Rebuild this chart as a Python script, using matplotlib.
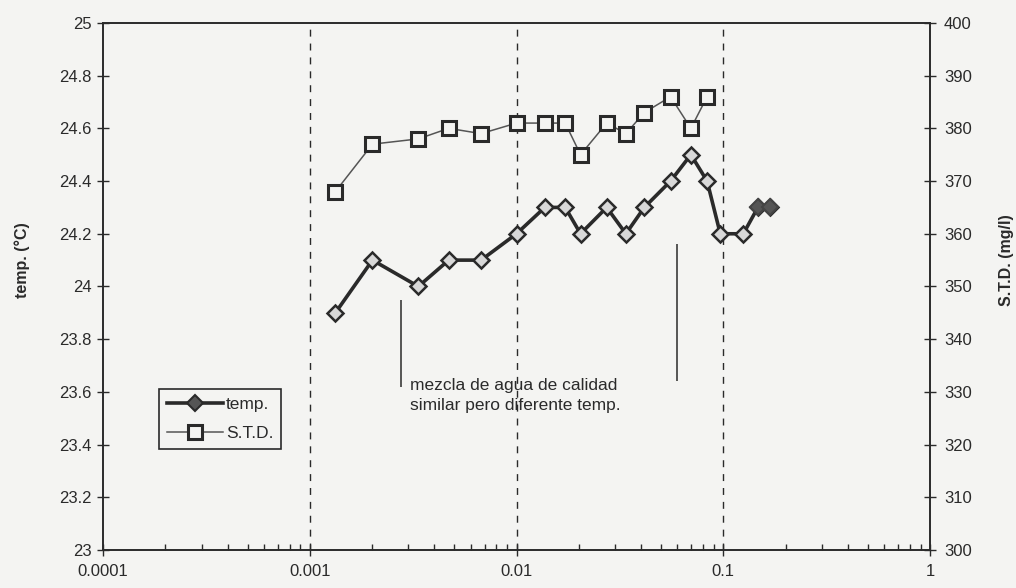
import matplotlib.pyplot as plt
from matplotlib.lines import Line2D

plt.rcParams['font.family'] = ['Liberation Sans', 'DejaVu Sans']

# sampling points on the log axis
x_temp = [0.00133, 0.00201, 0.00335, 0.0047, 0.00674, 0.0100, 0.0137,
          0.0172, 0.0204, 0.0273, 0.0338, 0.0415, 0.0556, 0.0697, 0.0835,
          0.0967, 0.125, 0.147, 0.168]
temp = [23.9, 24.1, 24.0, 24.1, 24.1, 24.2, 24.3, 24.3, 24.2, 24.3, 24.2,
        24.3, 24.4, 24.5, 24.4, 24.2, 24.2, 24.3, 24.3]

x_std = [0.00133, 0.00201, 0.00335, 0.0047, 0.00674, 0.0100, 0.0137,
         0.0172, 0.0204, 0.0273, 0.0338, 0.0415, 0.0556, 0.0697, 0.0835]
std = [368, 377, 378, 380, 379, 381, 381, 381, 375, 381, 379, 383, 386,
       380, 386]

x_ticks = [0.0001, 0.001, 0.01, 0.1, 1]
x_tick_labels = ['0.0001', '0.001', '0.01', '0.1', '1']
temp_ticks = [23, 23.2, 23.4, 23.6, 23.8, 24, 24.2, 24.4, 24.6, 24.8, 25]
temp_tick_labels = ['23', '23.2', '23.4', '23.6', '23.8', '24', '24.2',
                    '24.4', '24.6', '24.8', '25']
std_ticks = [300, 310, 320, 330, 340, 350, 360, 370, 380, 390, 400]

bg = '#f4f4f2'
ink = '#2a2a2a'

fig = plt.figure(figsize=(10.16, 5.88), dpi=100, facecolor=bg)
ax = fig.add_axes([0.1014, 0.0646, 0.814, 0.8964], facecolor=bg)
ax2 = ax.twinx()

ax.set_xscale('log')
ax.set_xlim(0.0001, 1)
ax.set_ylim(23, 25)
ax2.set_ylim(300, 400)

# vertical dashed lines at the inner decades
for xv in x_ticks[1:-1]:
    ax.axvline(xv, color=ink, lw=1.0, ls=(0, (5, 5)), zorder=1)

# temperature series
ax.plot(x_temp, temp, color=ink, lw=2.6, marker='D', ms=8,
        mfc='#d8d8d8', mec=ink, mew=1.8, zorder=4)
ax.plot(x_temp[-2:], temp[-2:], ls='none', marker='D', ms=8,
        mfc='#555555', mec='#444444', mew=1.5, zorder=5)

# dissolved solids series
ax2.plot(x_std, std, color='#555555', lw=1.1, marker='s', ms=10,
         mfc=bg, mec=ink, mew=2.2, zorder=4)

# annotation
ax.vlines([0.00276], 23.62, 23.95, color=ink, lw=1.1)
ax.vlines([0.0596], 23.64, 24.16, color=ink, lw=1.1)
ax.text(0.00306, 23.585, 'mezcla de agua de calidad\nsimilar pero diferente temp.',
        fontsize=12.5, color=ink, va='center', ha='left', linespacing=1.4)

ax.set_xticks(x_ticks)
ax.set_xticklabels(x_tick_labels)
ax.set_yticks(temp_ticks)
ax.set_yticklabels(temp_tick_labels)
ax2.set_yticks(std_ticks)

ax.tick_params(axis='x', which='major', direction='inout', length=8,
               width=1, colors=ink, labelsize=12, pad=6)
ax.tick_params(axis='x', which='minor', direction='in', length=4,
               width=1, colors=ink)
ax.tick_params(axis='y', direction='inout', length=8, width=1,
               colors=ink, labelsize=12, pad=4)
ax2.tick_params(axis='y', direction='inout', length=8, width=1,
                colors=ink, labelsize=12, pad=6)

for a in (ax, ax2):
    for s in a.spines.values():
        s.set_color(ink)
        s.set_linewidth(1.2)

ax.set_ylabel('temp. (°C)', fontsize=11.5, fontweight='bold', color=ink)
ax2.set_ylabel('S.T.D. (mg/l)', fontsize=11.5, fontweight='bold', color=ink)
ax.yaxis.set_label_coords(-0.088, 0.55)
ax2.yaxis.set_label_coords(1.083, 0.55)

handles = [
    Line2D([], [], color=ink, lw=2.6, marker='D', ms=8, mfc='#555555',
           mec=ink, mew=1.5),
    Line2D([], [], color='#555555', lw=1.1, marker='s', ms=10, mfc=bg,
           mec=ink, mew=2.2),
]
leg = ax2.legend(handles, ['temp.', 'S.T.D.'], loc='lower left',
                 bbox_to_anchor=(0.068, 0.192), borderaxespad=0,
                 fontsize=12.5, handlelength=3.2, handletextpad=0.2,
                 labelspacing=0.8, borderpad=0.45, numpoints=1,
                 fancybox=False, framealpha=1, facecolor=bg, edgecolor=ink)
leg.get_frame().set_linewidth(1.2)
for t in leg.get_texts():
    t.set_color(ink)

fig.savefig('out.png', dpi=100, facecolor=bg)
